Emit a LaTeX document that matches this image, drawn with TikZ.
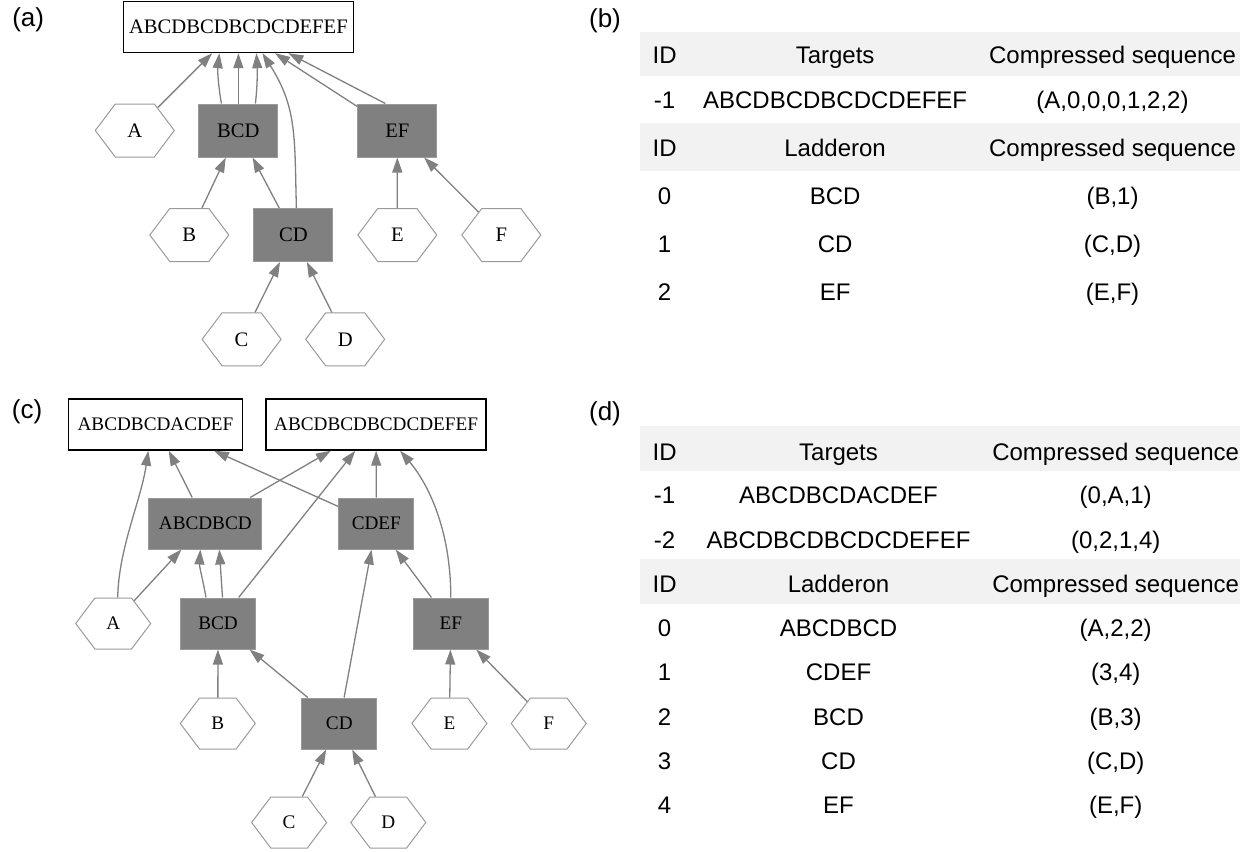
\documentclass[tikz,border=0pt]{standalone}
\usepackage{fontspec}
\setmainfont{Liberation Serif}
\setsansfont{Liberation Sans}
\usetikzlibrary{arrows.meta,shapes.symbols}
\definecolor{linkgray}{HTML}{808080}
\definecolor{ladderfill}{HTML}{808080}
\definecolor{ladderedge}{HTML}{9A9A9A}
\definecolor{leafedge}{HTML}{9A9A9A}
\definecolor{headband}{HTML}{F2F2F2}

\begin{document}
\begin{tikzpicture}[
  x={(0.5pt,0)},
  y={(0,-0.5pt)},
  target/.style={draw=black,line width=0.7pt,fill=white,inner sep=0pt,minimum height=25.5pt},
  ladder/.style={draw=ladderedge,line width=0.5pt,fill=ladderfill,inner sep=0pt},
  leaf/.style={signal,signal to=east and west,signal pointer angle=106,draw=leafedge,line width=0.5pt,inner sep=0pt},
  big/.style={minimum width=39.5pt,minimum height=26.5pt,font=\fontsize{10.3}{12}\selectfont},
  small/.style={minimum width=37.5pt,minimum height=25.5pt,font=\fontsize{9.6}{11}\selectfont},
  link/.style={draw=linkgray,line width=0.65pt,-{Triangle[length=7.5pt,width=5pt]}},
  band/.style={fill=headband,draw=none},
  cell/.style={font=\sffamily\fontsize{12}{14}\selectfont,inner sep=0pt,anchor=base},
  tag/.style={font=\sffamily\fontsize{13}{15}\selectfont,inner sep=0pt}
]
  \useasboundingbox (0,0) rectangle (1251,851);

  % (a) one target, three ladderons
  \node[tag] (taga) at (28.2,20) {(a)};
  \node[big,target,minimum width=115pt] (seqa) at (238.4,27) {ABCDBCDBCDCDEFEF};
  \node[leaf,big] (Aa) at (134.8,130.5) {A};
  \node[ladder,big] (BCDa) at (238.4,130.5) {BCD};
  \node[ladder,big] (EFa) at (397.3,130.5) {EF};
  \node[leaf,big] (Ba) at (189.3,235) {B};
  \node[ladder,big] (CDa) at (293.4,235) {CD};
  \node[leaf,big] (Ea) at (397.3,235) {E};
  \node[leaf,big] (Fa) at (501.3,235) {F};
  \node[leaf,big] (Ca) at (241.6,339.3) {C};
  \node[leaf,big] (Da) at (345.2,339.3) {D};

  \draw[link] (Aa) -- (seqa);
  \draw[link] ([shift={(-17,0)}]BCDa.north) .. controls +(-3,-17) and +(-2,17) .. ([shift={(-19,0)}]seqa.south);
  \draw[link] (BCDa) -- (seqa);
  \draw[link] ([shift={(17,0)}]BCDa.north) .. controls +(2,-17) and +(1,17) .. ([shift={(18,0)}]seqa.south);
  \draw[link] ([shift={(3,0)}]CDa.north) .. controls +(-2,-70) and +(35,55) .. ([shift={(24,0)}]seqa.south);
  \draw[link] ([shift={(0,3)}]EFa.north west) -- ([shift={(36.6,0)}]seqa.south);
  \draw[link] ([shift={(28,0)}]EFa.north west) -- ([shift={(50,0)}]seqa.south);
  \draw[link] (Ba) -- (BCDa);
  \draw[link] (CDa) -- (BCDa);
  \draw[link] (Ea) -- (EFa);
  \draw[link] (Fa) -- (EFa);
  \draw[link] (Ca) -- (CDa);
  \draw[link] (Da) -- (CDa);

  % (b) table
  \node[tag] (tagb) at (605,21) {(b)};
  \fill[band] (640,31.7) rectangle (1240,75.7);
  \fill[band] (640,122.7) rectangle (1240,171);
  \foreach \yy/\a/\b/\c [count=\r] in {
      63.3/ID/Targets/Compressed sequence,
      108/-1/ABCDBCDBCDCDEFEF/{(A,0,0,0,1,2,2)},
      156.7/ID/Ladderon/Compressed sequence,
      204/0/BCD/{(B,1)},
      252.3/1/CD/{(C,D)},
      300/2/EF/{(E,F)}} {
    \node[cell] (b\r-id) at (664.6,\yy) {\a};
    \node[cell] (b\r-name) at (835.1,\yy) {\b};
    \node[cell] (b\r-seq) at (1112.5,\yy) {\c};
  }

  % (c) two targets, five ladderons
  \node[tag] (tagc) at (27,412) {(c)};
  \node[small,target,minimum width=87pt] (seqc1) at (155.5,424.5) {ABCDBCDACDEF};
  \node[small,target,minimum width=110pt] (seqc2) at (376.1,424.5) {ABCDBCDBCDCDEFEF};
  \node[ladder,small,minimum width=56.5pt] (ABCDBCDc) at (205.3,523.5) {ABCDBCD};
  \node[ladder,small] (CDEFc) at (376.3,523.5) {CDEF};
  \node[leaf,small] (Ac) at (113.2,623.5) {A};
  \node[ladder,small] (BCDc) at (218,623.5) {BCD};
  \node[ladder,small] (EFc) at (450.8,623.5) {EF};
  \node[leaf,small] (Bc) at (217.8,723.5) {B};
  \node[ladder,small] (CDc) at (339.3,723.5) {CD};
  \node[leaf,small] (Ec) at (449.4,723.5) {E};
  \node[leaf,small] (Fc) at (548.7,723.5) {F};
  \node[leaf,small] (Cc) at (289.1,822.5) {C};
  \node[leaf,small] (Dc) at (388.3,822.5) {D};

  \draw[link] ([shift={(4.5,0)}]Ac.north) .. controls +(1,-50) and +(-7.3,50) .. ([shift={(-7.2,0)}]seqc1.south);
  \draw[link] (Ac) -- (ABCDBCDc);
  \draw[link] (ABCDBCDc) -- (seqc1);
  \draw[link] (CDEFc) -- (seqc1);
  \draw[link] (ABCDBCDc) -- (seqc2);
  \draw[link] (BCDc) -- (seqc2);
  \draw[link] (CDEFc) -- (seqc2);
  \draw[link] (EFc.north) .. controls +(0,-68) and +(28,33) .. ([shift={(24,0)}]seqc2.south);
  \draw[link] ([shift={(-12,0)}]BCDc.north) .. controls +(-3,-17) and +(-1,17) .. ([shift={(-5,0)}]ABCDBCDc.south);
  \draw[link] ([shift={(4.5,0)}]BCDc.north) -- ([shift={(14,0)}]ABCDBCDc.south);
  \draw[link] (CDc) -- (CDEFc);
  \draw[link] (EFc) -- (CDEFc);
  \draw[link] (Bc) -- (BCDc);
  \draw[link] (CDc) -- (BCDc);
  \draw[link] (Ec) -- (EFc);
  \draw[link] (Fc) -- (EFc);
  \draw[link] (Cc) -- (CDc);
  \draw[link] (Dc) -- (CDc);

  % (d) table
  \node[tag] (tagd) at (605,414) {(d)};
  \fill[band] (640,426) rectangle (1240,471);
  \fill[band] (640,559.3) rectangle (1240,604);
  \foreach \yy/\a/\b/\c [count=\r] in {
      460/ID/Targets/Compressed sequence,
      503.3/-1/ABCDBCDACDEF/{(0,A,1)},
      548/-2/ABCDBCDBCDCDEFEF/{(0,2,1,4)},
      592.7/ID/Ladderon/Compressed sequence,
      636.7/0/ABCDBCD/{(A,2,2)},
      680.7/1/CDEF/{(3,4)},
      725/2/BCD/{(B,3)},
      769.3/3/CD/{(C,D)},
      813.3/4/EF/{(E,F)}} {
    \node[cell] (d\r-id) at (664.6,\yy) {\a};
    \node[cell] (d\r-name) at (838.5,\yy) {\b};
    \node[cell] (d\r-seq) at (1115.7,\yy) {\c};
  }
\end{tikzpicture}
\end{document}
